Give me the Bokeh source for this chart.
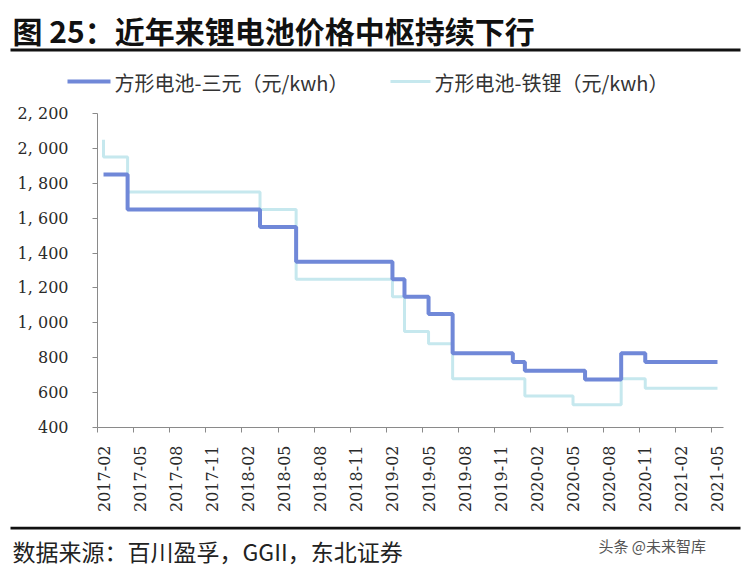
import math
from bokeh.plotting import figure
from bokeh.models import Range1d, FixedTicker
from bokeh.core.properties import value
from bokeh.embed import file_html
from bokeh.resources import INLINE

# ---------------- data ----------------
title_text = "图 25：近年来锂电池价格中枢持续下行"
legend_ternary = "方形电池-三元（元/kwh）"
legend_lfp = "方形电池-铁锂（元/kwh）"
source_text = "数据来源：百川盈孚，GGII，东北证券"
watermark_text = "头条 @未来智库"

x_tick_labels = ["2017-02", "2017-05", "2017-08", "2017-11", "2018-02", "2018-05",
                 "2018-08", "2018-11", "2019-02", "2019-05", "2019-08", "2019-11",
                 "2020-02", "2020-05", "2020-08", "2020-11", "2021-02", "2021-05"]
y_ticks = [400, 600, 800, 1000, 1200, 1400, 1600, 1800, 2000, 2200]
y_tick_labels = ["400", "600", "800", "1, 000", "1, 200", "1, 400", "1, 600",
                 "1, 800", "2, 000", "2, 200"]

first_month = "2017-02"
last_month = "2021-05"

# price change months and new price levels (元/kwh)
ternary_months = ["2017-02", "2017-04", "2018-03", "2018-06", "2019-02", "2019-03",
                  "2019-05", "2019-07", "2019-12", "2020-01", "2020-06", "2020-09",
                  "2020-11"]
ternary_prices = [1850, 1650, 1550, 1350, 1250, 1150, 1050, 825, 775, 725, 675, 825, 775]

lfp_months = ["2017-02", "2017-02", "2017-04", "2018-03", "2018-06", "2019-02",
              "2019-03", "2019-05", "2019-07", "2020-01", "2020-05", "2020-09",
              "2020-11"]
lfp_prices = [2050, 1950, 1750, 1650, 1250, 1150, 950, 880, 680, 580, 530, 680, 625]


def midx(s):
    y, m = s.split("-")
    return (int(y) - 2017) * 12 + int(m) - 2


def step_xy(months, prices):
    xs = [midx(m) for m in months] + [midx(last_month)]
    ys = list(prices) + [prices[-1]]
    return xs, ys


n_months = midx(last_month) + 1

DARK = "#7088d8"
LIGHT = "#c6e8ee"
AX = "#8a8a8a"
LBL = "#2a2a2a"
SERIF = "DejaVu Serif"
CJK = "Noto Sans CJK SC"
W = 750


def blank(h):
    f = figure(width=W, height=h, output_backend="svg", toolbar_location=None,
               x_range=Range1d(0, W), y_range=Range1d(h, 0),
               x_axis_type=None, y_axis_type=None,
               min_border_left=0, min_border_right=0, min_border_top=0,
               min_border_bottom=0)
    f.outline_line_color = None
    f.xgrid.visible = False
    f.ygrid.visible = False
    f.background_fill_color = "white"
    f.border_fill_color = "white"
    return f


# ---------------- header ----------------
TOP_H = 100
top = blank(TOP_H)
top.text(x=[12], y=[29], text=[title_text], text_font=value(CJK),
         text_font_size=value("30px"), text_font_style="bold",
         text_color="#111111", text_baseline="middle", text_align="left")
top.quad(left=[10], right=[740], top=[48], bottom=[51], fill_color="#111111",
         line_color=None)
top.segment(x0=[67], y0=[81], x1=[110], y1=[81], line_color=DARK, line_width=4)
top.segment(x0=[390], y0=[81], x1=[430], y1=[81], line_color=LIGHT, line_width=3)
top.text(x=[114, 434], y=[82, 82], text=[legend_ternary, legend_lfp],
         text_font=value(CJK), text_font_size=value("20px"),
         text_color="#333333", text_baseline="middle", text_align="left")

# ---------------- main chart ----------------
MAIN_H = 426
p = figure(width=W, height=MAIN_H, output_backend="svg", toolbar_location=None,
           x_range=Range1d(-0.5, n_months - 0.5), y_range=Range1d(400, 2200),
           min_border_left=97, min_border_right=27, min_border_top=13,
           min_border_bottom=99)
p.outline_line_color = None
p.xgrid.grid_line_color = None
p.ygrid.grid_line_color = None
p.background_fill_color = "white"
p.border_fill_color = "white"

ya = p.yaxis[0]
ya.ticker = FixedTicker(ticks=y_ticks)
ya.major_label_overrides = {v: l for v, l in zip(y_ticks, y_tick_labels)}
ya.axis_line_color = AX
ya.major_tick_line_color = AX
ya.minor_tick_line_color = None
ya.major_tick_out = 5
ya.major_tick_in = 0
ya.major_label_standoff = 24
ya.major_label_text_font = SERIF
ya.major_label_text_font_size = "16px"
ya.major_label_text_color = LBL

xa = p.xaxis[0]
xa.ticker = FixedTicker(ticks=[midx(l) for l in x_tick_labels],
                        minor_ticks=[midx(l) - 0.5 for l in x_tick_labels])
xa.major_label_overrides = {midx(l): l for l in x_tick_labels}
xa.axis_line_color = AX
xa.major_tick_line_color = None
xa.major_tick_out = 0
xa.major_tick_in = 0
xa.minor_tick_line_color = AX
xa.minor_tick_out = 5
xa.minor_tick_in = 0
xa.major_label_standoff = 13
xa.major_label_orientation = math.pi / 2
xa.major_label_text_font = SERIF
xa.major_label_text_font_size = "16px"
xa.major_label_text_color = LBL

lx, ly = step_xy(lfp_months, lfp_prices)
tx, ty = step_xy(ternary_months, ternary_prices)
p.step(lx, ly, mode="after", line_color=LIGHT, line_width=3)
p.step(tx, ty, mode="after", line_color=DARK, line_width=4)

# ---------------- footer ----------------
BOT_H = 571 - TOP_H - MAIN_H
bot = blank(BOT_H)
bot.quad(left=[10], right=[740], top=[0], bottom=[3], fill_color="#111111",
         line_color=None)
bot.text(x=[12], y=[24], text=[source_text], text_font=value(CJK),
         text_font_size=value("23px"), text_color="#222222",
         text_baseline="middle", text_align="left")
bot.text(x=[598], y=[19], text=[watermark_text], text_font=value(CJK),
         text_font_size=value("15px"), text_color="#555555",
         text_baseline="middle", text_align="left")

open("out.html", "w").write(file_html([top, p, bot], INLINE))
